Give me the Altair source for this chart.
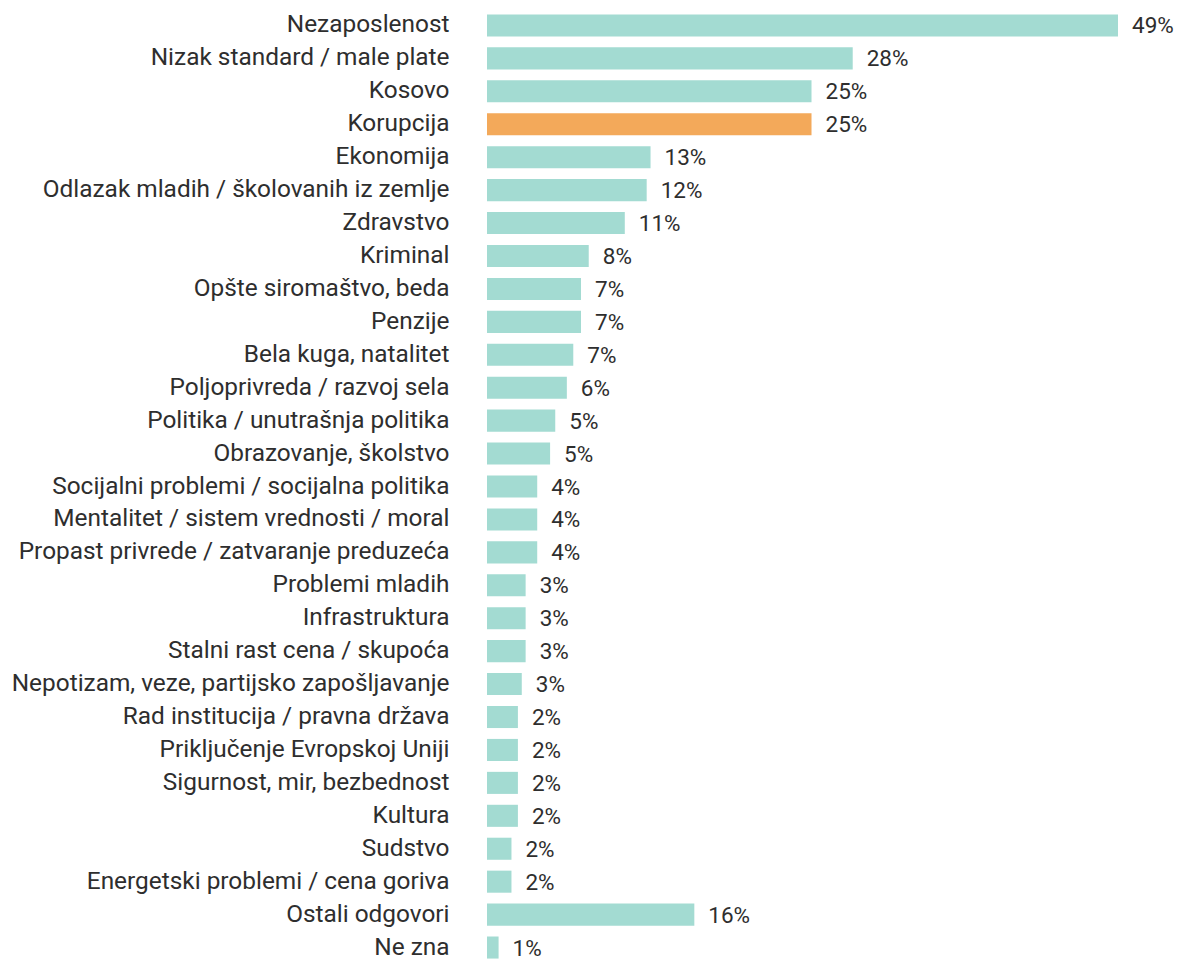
import altair as alt
import pandas as pd

categories = [
    "Nezaposlenost",
    "Nizak standard / male plate",
    "Kosovo",
    "Korupcija",
    "Ekonomija",
    "Odlazak mladih / školovanih iz zemlje",
    "Zdravstvo",
    "Kriminal",
    "Opšte siromaštvo, beda",
    "Penzije",
    "Bela kuga, natalitet",
    "Poljoprivreda / razvoj sela",
    "Politika / unutrašnja politika",
    "Obrazovanje, školstvo",
    "Socijalni problemi / socijalna politika",
    "Mentalitet / sistem vrednosti / moral",
    "Propast privrede / zatvaranje preduzeća",
    "Problemi mladih",
    "Infrastruktura",
    "Stalni rast cena / skupoća",
    "Nepotizam, veze, partijsko zapošljavanje",
    "Rad institucija / pravna država",
    "Priključenje Evropskoj Uniji",
    "Sigurnost, mir, bezbednost",
    "Kultura",
    "Sudstvo",
    "Energetski problemi / cena goriva",
    "Ostali odgovori",
    "Ne zna",
]

values = [49.0, 28.4, 25.2, 25.2, 12.7, 12.4, 10.7, 7.9, 7.3, 7.3, 6.7, 6.2, 5.3, 4.9,
          3.9, 3.9, 3.9, 3.0, 3.0, 3.0, 2.7, 2.4, 2.4, 2.4, 2.4, 1.9, 1.9, 16.1, 0.9]

labels = ["49%", "28%", "25%", "25%", "13%", "12%", "11%", "8%", "7%", "7%", "7%", "6%",
          "5%", "5%", "4%", "4%", "4%", "3%", "3%", "3%", "3%", "2%", "2%", "2%", "2%",
          "2%", "2%", "16%", "1%"]

highlight = ["Korupcija"]

df = pd.DataFrame({
    "cat": categories,
    "val": values,
    "lab": labels,
    "hl": ["yes" if c in highlight else "no" for c in categories],
})

FONT = "Roboto"
TXT = "#2e2e2e"

y = alt.Y("cat:N", sort=categories, title=None,
          scale=alt.Scale(paddingInner=0.33, paddingOuter=0.165),
          axis=alt.Axis(ticks=False, domain=False, grid=False, labelPadding=38,
                        labelFontSize=24.4, labelFont=FONT, labelColor=TXT, labelLimit=700))
x = alt.X("val:Q", title=None, scale=alt.Scale(domain=[0, 49], nice=False, zero=True),
          axis=None)

bars = alt.Chart(df).mark_bar().encode(
    y=y, x=x,
    color=alt.Color("hl:N", scale=alt.Scale(domain=["no", "yes"], range=["#a3dbd2", "#f3a95a"]),
                    legend=None),
)

text = alt.Chart(df).mark_text(align="left", baseline="middle", dx=14, dy=1, fontSize=22.5,
                               font=FONT, color=TXT).encode(
    y=y, x=x, text="lab:N",
)

chart = (bars + text).properties(
    width=631, height=955,
    autosize=alt.AutoSizeParams(type="none"),
    padding={"left": 479, "top": 1, "right": 56, "bottom": 0},
).configure(background="white").configure_view(stroke=None, strokeWidth=0)

chart.save("out.html", embed_options={"renderer": "svg", "actions": False})
